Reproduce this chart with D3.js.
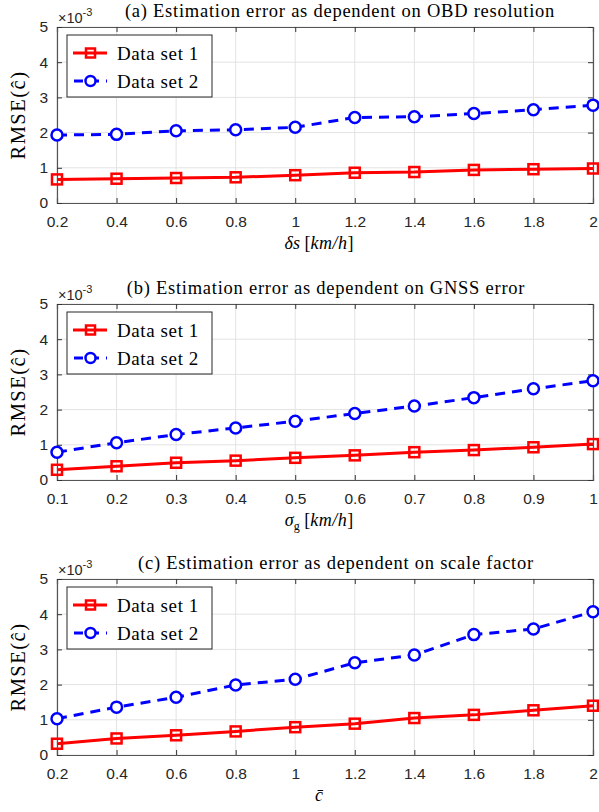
<!DOCTYPE html>
<html>
<head>
<meta charset="utf-8">
<script src="https://cdn.jsdelivr.net/npm/d3@7"></script>
<style>
  body { margin: 0; background: #fff; }
  svg { display: block; }
  .tick text { font-family: "Liberation Sans", Arial, sans-serif; font-size: 15.5px; fill: #262626; }
</style>
</head>
<body>
<div id="myDiv"><svg width="599" height="812"></svg></div>
<script>
// values are RMSE x 10^-3
const xOBD = [0.2, 0.4, 0.6, 0.8, 1, 1.2, 1.4, 1.6, 1.8, 2];
const obdSet1 = [0.67, 0.69, 0.71, 0.73, 0.79, 0.86, 0.88, 0.94, 0.96, 0.98];
const obdSet2 = [1.93, 1.95, 2.05, 2.08, 2.15, 2.43, 2.45, 2.54, 2.65, 2.78];

const xGNSS = [0.1, 0.2, 0.3, 0.4, 0.5, 0.6, 0.7, 0.8, 0.9, 1];
const gnssSet1 = [0.29, 0.39, 0.49, 0.55, 0.63, 0.70, 0.79, 0.85, 0.93, 1.02];
const gnssSet2 = [0.79, 1.06, 1.29, 1.48, 1.67, 1.89, 2.10, 2.34, 2.59, 2.82];

const xScale = [0.2, 0.4, 0.6, 0.8, 1, 1.2, 1.4, 1.6, 1.8, 2];
const scaleSet1 = [0.32, 0.47, 0.56, 0.67, 0.79, 0.89, 1.05, 1.14, 1.27, 1.40];
const scaleSet2 = [1.03, 1.36, 1.64, 1.99, 2.15, 2.62, 2.84, 3.42, 3.58, 4.07];

const yTicks = [0, 1, 2, 3, 4, 5];
const seriesNames = ["Data set 1", "Data set 2"];

const SERIF = "Liberation Serif, Times New Roman, serif";
const SANS = "Liberation Sans, Arial, sans-serif";

const svg = d3.select("#myDiv").select("svg");

function serifText(sel) {
    return sel.append("text").attr("font-family", SERIF).attr("fill", "#000");
}

function drawPanel(cfg) {
    let left = 57, right = 593;
    let top = cfg.top, bottom = cfg.top + 176;

    let x = d3.scaleLinear().domain(d3.extent(cfg.xs)).range([left, right]);
    let y = d3.scaleLinear().domain([0, 5]).range([bottom, top]);

    let g = svg.append("g");

    // grid
    g.selectAll(".vgrid").data(cfg.xs).enter().append("line")
        .attr("x1", d => x(d)).attr("x2", d => x(d))
        .attr("y1", top).attr("y2", bottom)
        .attr("stroke", "#e3e3e3").attr("stroke-width", 1);
    g.selectAll(".hgrid").data(yTicks).enter().append("line")
        .attr("x1", left).attr("x2", right)
        .attr("y1", d => y(d)).attr("y2", d => y(d))
        .attr("stroke", "#e3e3e3").attr("stroke-width", 1);

    // axes (ticks point inward, MATLAB style)
    let xAxis = d3.axisBottom(x).tickValues(cfg.xs).tickSize(-5).tickPadding(13).tickFormat(d => String(d));
    let xTop = d3.axisTop(x).tickValues(cfg.xs).tickSize(-5).tickFormat("");
    let yAxis = d3.axisLeft(y).tickValues(yTicks).tickSize(-5).tickPadding(9).tickFormat(d => String(d));
    let yRight = d3.axisRight(y).tickValues(yTicks).tickSize(-5).tickFormat("");

    [[xAxis, `translate(0,${bottom})`], [xTop, `translate(0,${top})`],
     [yAxis, `translate(${left},0)`], [yRight, `translate(${right},0)`]].forEach(function(a) {
        let ag = g.append("g").attr("transform", a[1]).call(a[0]);
        ag.select(".domain").attr("stroke", "#555").attr("stroke-width", 1.2);
        ag.selectAll(".tick line").attr("stroke", "#333").attr("stroke-width", 1);
    });

    // series
    let line = d3.line().x(d => x(d[0])).y(d => y(d[1]));
    let d1 = cfg.xs.map((v, i) => [v, cfg.s1[i]]);
    let d2 = cfg.xs.map((v, i) => [v, cfg.s2[i]]);

    g.append("path").datum(d1).attr("d", line)
        .attr("fill", "none").attr("stroke", "#ff0000").attr("stroke-width", 3);
    g.selectAll(".sq").data(d1).enter().append("rect")
        .attr("x", d => x(d[0]) - 5).attr("y", d => y(d[1]) - 5)
        .attr("width", 10).attr("height", 10)
        .attr("fill", "none").attr("stroke", "#ff0000").attr("stroke-width", 2.5);

    g.append("path").datum(d2).attr("d", line)
        .attr("fill", "none").attr("stroke", "#0000ff").attr("stroke-width", 3)
        .attr("stroke-dasharray", "10,7");
    g.selectAll(".ci").data(d2).enter().append("circle")
        .attr("cx", d => x(d[0])).attr("cy", d => y(d[1])).attr("r", 5.5)
        .attr("fill", "#fff").attr("stroke", "#0000ff").attr("stroke-width", 2.5);

    // exponent label
    let ex = g.append("text").attr("x", left + 1).attr("y", top - 4)
        .attr("font-family", SANS).attr("font-size", 14.5).attr("fill", "#262626");
    ex.append("tspan").text("\u00d710");
    ex.append("tspan").attr("dy", -7).attr("font-size", 11).text("-3");

    // title
    serifText(g).attr("x", cfg.titleX).attr("y", top - 10)
        .attr("text-anchor", "middle").attr("font-size", 18.5)
        .attr("letter-spacing", 0.75).text(cfg.title);

    // y label
    serifText(g)
        .attr("transform", `translate(25,${(top + bottom) / 2}) rotate(-90)`)
        .attr("text-anchor", "middle").attr("font-size", 20.5).attr("letter-spacing", 1.5)
        .text("RMSE(\u0109)");

    // x label
    cfg.xlabel(serifText(g)
        .attr("x", 319).attr("y", bottom + 46)
        .attr("text-anchor", "middle").attr("font-size", 18));

    // legend
    let lg = g.append("g").attr("transform", `translate(67,${top + 8})`);
    lg.append("rect").attr("width", 145).attr("height", 62)
        .attr("fill", "#fff").attr("stroke", "#262626").attr("stroke-width", 1);
    seriesNames.forEach(function(name, i) {
        let cy = 18 + i * 28;
        let ln = lg.append("line").attr("x1", 6).attr("x2", 40).attr("y1", cy).attr("y2", cy)
            .attr("stroke-width", 3);
        if (i === 0) {
            ln.attr("stroke", "#ff0000");
            lg.append("rect").attr("x", 19).attr("y", cy - 4.5).attr("width", 9).attr("height", 9)
                .attr("fill", "none").attr("stroke", "#ff0000").attr("stroke-width", 2.5);
        } else {
            ln.attr("stroke", "#0000ff").attr("stroke-dasharray", "9,7").attr("stroke-dashoffset", -1);
            lg.append("circle").attr("cx", 23.5).attr("cy", cy).attr("r", 5)
                .attr("fill", "#fff").attr("stroke", "#0000ff").attr("stroke-width", 2.5);
        }
        serifText(lg).attr("x", 50).attr("y", cy + 6.5)
            .attr("font-size", 19).attr("letter-spacing", 0.6).text(name);
    });
}

drawPanel({
    top: 27, xs: xOBD, s1: obdSet1, s2: obdSet2, titleX: 340,
    title: "(a) Estimation error as dependent on OBD resolution",
    xlabel: function(t) {
        t.append("tspan").attr("font-style", "italic").text("\u03b4s");
        t.append("tspan").text(" [");
        t.append("tspan").attr("font-style", "italic").attr("letter-spacing", 0.5).text("km/h");
        t.append("tspan").text("]");
    }
});

drawPanel({
    top: 304, xs: xGNSS, s1: gnssSet1, s2: gnssSet2, titleX: 326,
    title: "(b) Estimation error as dependent on GNSS error",
    xlabel: function(t) {
        t.append("tspan").attr("font-style", "italic").text("\u03c3");
        t.append("tspan").attr("font-size", 12).attr("dy", 4).text("g");
        t.append("tspan").attr("dy", -4).text(" [");
        t.append("tspan").attr("font-style", "italic").attr("letter-spacing", 0.5).text("km/h");
        t.append("tspan").text("]");
    }
});

drawPanel({
    top: 579, xs: xScale, s1: scaleSet1, s2: scaleSet2, titleX: 336,
    title: "(c) Estimation error as dependent on scale factor",
    xlabel: function(t) {
        t.append("tspan").attr("font-style", "italic").text("c\u0304");
    }
});
</script>
</body>
</html>
